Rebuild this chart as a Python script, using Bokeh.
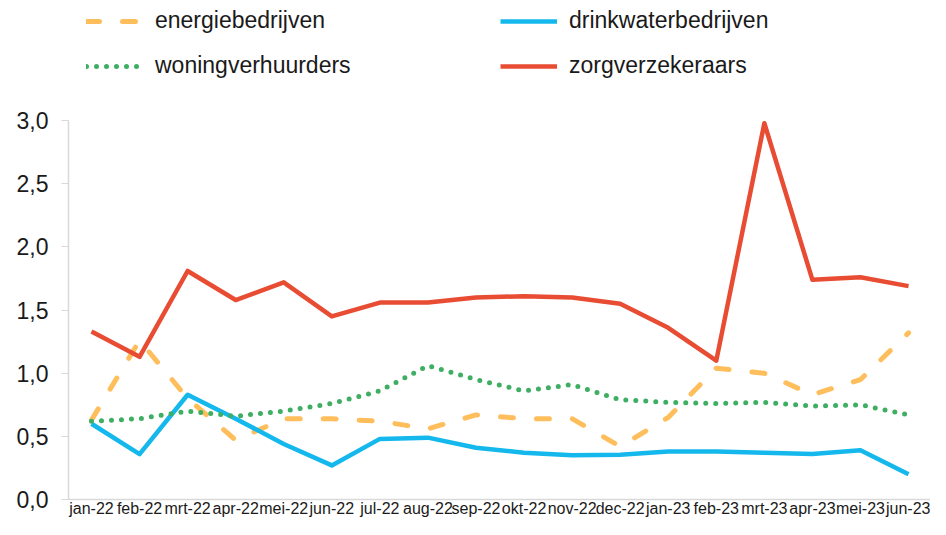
from bokeh.plotting import figure
from bokeh.models import Range1d, FixedTicker, Legend, LegendItem, CustomJSTickFormatter
from bokeh.embed import file_html
from bokeh.resources import INLINE

months = ["jan-22", "feb-22", "mrt-22", "apr-22", "mei-22", "jun-22", "jul-22", "aug-22",
          "sep-22", "okt-22", "nov-22", "dec-22", "jan-23", "feb-23", "mrt-23", "apr-23",
          "mei-23", "jun-23"]
energiebedrijven = [0.63, 1.26, 0.80, 0.47, 0.64, 0.64, 0.62, 0.56, 0.67, 0.64, 0.64, 0.42,
                    0.65, 1.04, 1.00, 0.83, 0.95, 1.32]
drinkwaterbedrijven = [0.60, 0.36, 0.83, 0.64, 0.44, 0.27, 0.48, 0.49, 0.41, 0.37, 0.35, 0.355,
                       0.38, 0.38, 0.37, 0.36, 0.39, 0.20]
woningverhuurders = [0.62, 0.64, 0.70, 0.66, 0.70, 0.76, 0.86, 1.06, 0.95, 0.86, 0.91, 0.79,
                     0.77, 0.76, 0.77, 0.74, 0.75, 0.67]
zorgverzekeraars = [1.33, 1.13, 1.81, 1.58, 1.72, 1.45, 1.56, 1.56, 1.60, 1.61, 1.60, 1.55,
                    1.36, 1.10, 2.98, 1.74, 1.76, 1.69]
y_ticks = [0.0, 0.5, 1.0, 1.5, 2.0, 2.5, 3.0]

x = list(range(len(months)))
FONT = "Liberation Sans"
TXT = "#1a1a1a"
AXIS = "#D9D9D9"

# frame spans the full height above the x axis; top room holds the legend
FB = 498          # expected frame bottom (canvas px)
Y_END = 3.0 + 3.0 * 120 / (FB - 120)

p = figure(width=930, height=519, output_backend="svg", toolbar_location=None,
           x_range=Range1d(-0.4786, 17.457), y_range=Range1d(0, Y_END),
           min_border_left=68, min_border_right=0, min_border_top=0, min_border_bottom=0,
           outline_line_color=None)
p.grid.visible = False

xa = p.xaxis[0]
xa.ticker = FixedTicker(ticks=x)
xa.formatter = CustomJSTickFormatter(args=dict(labels=months),
                                     code="return labels[Math.round(tick)] || '';")
xa.axis_line_color = AXIS
xa.axis_line_width = 1.5
xa.major_tick_line_color = None
xa.major_tick_out = 0
xa.major_tick_in = 0
xa.minor_tick_line_color = None
xa.major_label_standoff = 0
xa.major_label_text_font = FONT
xa.major_label_text_font_size = "16px"
xa.major_label_text_color = TXT

ya = p.yaxis[0]
ya.ticker = FixedTicker(ticks=y_ticks)
ya.bounds = (0, 3.0)
ya.formatter = CustomJSTickFormatter(code="return tick.toFixed(1).replace('.', ',');")
ya.axis_line_color = AXIS
ya.axis_line_width = 1.5
ya.major_tick_line_color = AXIS
ya.major_tick_out = 7
ya.major_tick_in = 0
ya.minor_tick_line_color = None
ya.major_label_standoff = 13
ya.major_label_text_font = FONT
ya.major_label_text_font_size = "23px"
ya.major_label_text_color = TXT

r1 = p.line(x, energiebedrijven, line_color="#FFBE5C", line_width=5, line_dash="13 23",
            line_cap="round", line_join="round")
r2 = p.line(x, drinkwaterbedrijven, line_color="#14B8EC", line_width=4.5, line_join="round")
r3 = p.line(x, woningverhuurders, line_color="#3DAE62", line_width=5, line_dash="0 10",
            line_cap="round", line_join="round")
r4 = p.line(x, zorgverzekeraars, line_color="#E84C33", line_width=4.5, line_join="round")

legend = Legend(items=[
    LegendItem(label="energiebedrijven", renderers=[r1]),
    LegendItem(label="drinkwaterbedrijven", renderers=[r2]),
    LegendItem(label="woningverhuurders", renderers=[r3]),
    LegendItem(label="zorgverzekeraars", renderers=[r4]),
], orientation="horizontal", ncols=2, location=(18, FB - 78),
    glyph_width=57, glyph_height=24, label_height=24, label_width=327,
    label_standoff=12, spacing=18, padding=0, margin=0,
    label_text_font=FONT, label_text_font_size="23px", label_text_color=TXT,
    border_line_color=None, background_fill_alpha=0)
p.add_layout(legend)

open("out.html", "w").write(file_html(p, INLINE))
